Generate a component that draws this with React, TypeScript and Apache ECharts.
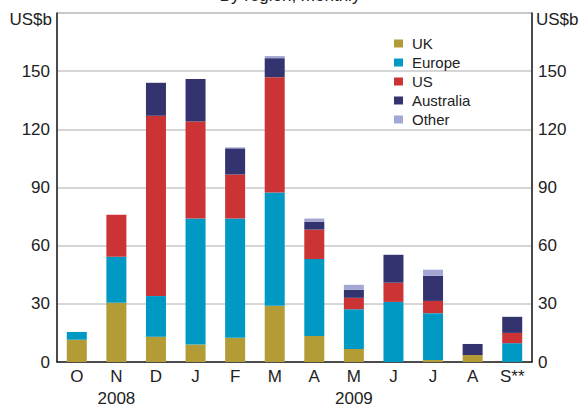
import React, { useEffect, useRef } from "react";
import * as echarts from "echarts";

const categories = ["O", "N", "D", "J", "F", "M", "A", "M", "J", "J", "A", "S**"];
const yearLabels = ["", "2008", "", "", "", "", "", "2009", "", "", "", ""];
const uk = [11.5, 30.5, 13, 9, 12.5, 29, 13.4, 6.7, 0, 1, 3.6, 0];
const europe = [4, 23.8, 21, 65, 61.5, 58.4, 39.7, 20.5, 31, 24.2, 0, 9.7];
const us = [0, 21.7, 93, 50, 22.7, 59.5, 15.2, 5.9, 9.9, 6.3, 0, 5.3];
const australia = [0, 0, 17, 22, 13.5, 9.8, 4.1, 4.1, 14.4, 13, 5.7, 8.3];
const other = [0, 0, 0, 0, 0.5, 1.1, 1.6, 2.6, 0, 3.1, 0, 0];
const yTicks = [0, 30, 60, 90, 120, 150];

const seriesDefs = [
  { name: "UK", data: uk, color: "#B39B35" },
  { name: "Europe", data: europe, color: "#0099C4" },
  { name: "US", data: us, color: "#CC3334" },
  { name: "Australia", data: australia, color: "#333370" },
  { name: "Other", data: other, color: "#A4A7D4" },
];

const FONT = "'Liberation Sans', Arial, sans-serif";

export default function App() {
  const ref = useRef<HTMLDivElement>(null);
  useEffect(() => {
    if (!ref.current) return;
    const chart = echarts.init(ref.current, undefined, { renderer: "svg" });
    const yLabel = (v: number) => (yTicks.includes(v) ? String(v) : "");
    chart.setOption({
      animation: false,
      textStyle: { fontFamily: FONT },
      grid: {
        left: 57,
        right: 48,
        top: 13,
        bottom: 44,
        containLabel: false,
        outerBoundsMode: "none",
        show: true,
        borderColor: "#8a8a8a",
        borderWidth: 1,
      },
      legend: {
        orient: "vertical",
        left: 389,
        top: 31,
        itemWidth: 9,
        itemHeight: 8,
        itemGap: 4,
        icon: "rect",
        textStyle: { fontFamily: FONT, fontSize: 15, color: "#222", padding: [0, 0, 0, 4] },
        data: seriesDefs.map((s) => s.name),
      },
      graphic: [
        {
          type: "text",
          left: "center",
          top: -13,
          style: { text: "By region, monthly", font: `17px ${FONT}`, fill: "#222" },
        },
        {
          type: "text",
          right: 528,
          top: 11,
          style: { text: "US$b", font: `17px ${FONT}`, fill: "#222" },
        },
        {
          type: "text",
          left: 536,
          top: 11,
          style: { text: "US$b", font: `17px ${FONT}`, fill: "#222" },
        },
      ],
      xAxis: {
        type: "category",
        data: categories,
        axisLine: { lineStyle: { color: "#222", width: 1.5 } },
        axisTick: { inside: true, length: 6, lineStyle: { color: "#222" } },
        axisLabel: {
          interval: 0,
          fontFamily: FONT,
          fontSize: 17,
          color: "#222",
          margin: 3,
          lineHeight: 22,
          formatter: (v: string, i: number) => (yearLabels[i] ? `${v}\n${yearLabels[i]}` : v),
        },
      },
      yAxis: [
        {
          type: "value",
          min: 0,
          max: 180,
          interval: 30,
          position: "left",
          axisLine: { show: true, lineStyle: { color: "#222", width: 1.5 } },
          axisTick: { show: false },
          axisLabel: { fontFamily: FONT, fontSize: 17, color: "#222", margin: 7, formatter: yLabel },
          splitLine: { lineStyle: { color: "#c8c8c8", width: 1.5 } },
        },
        {
          type: "value",
          min: 0,
          max: 180,
          interval: 30,
          position: "right",
          axisLine: { show: true, lineStyle: { color: "#222", width: 1.5 } },
          axisTick: { show: false },
          axisLabel: { fontFamily: FONT, fontSize: 17, color: "#222", margin: 6, formatter: yLabel },
          splitLine: { show: false },
        },
      ],
      series: seriesDefs.map((s) => ({
        name: s.name,
        type: "bar",
        stack: "total",
        barWidth: 20,
        data: s.data,
        itemStyle: { color: s.color },
        emphasis: { disabled: true },
      })),
    });
    return () => chart.dispose();
  }, []);
  return <div ref={ref} style={{ width: 580, height: 406, position: "absolute", left: 0, top: 0 }} />;
}
